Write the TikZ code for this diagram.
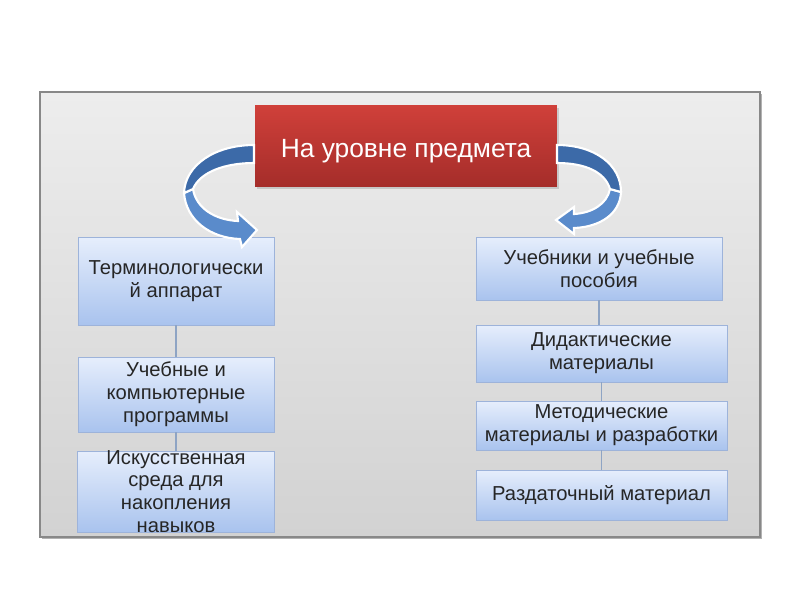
\documentclass[tikz,border=0pt]{standalone}
\usepackage{fontspec}
\setmainfont{Liberation Sans}
\usetikzlibrary{shadows}
\definecolor{bgtop}{HTML}{EDEDED}
\definecolor{bgbot}{HTML}{D2D2D2}
\definecolor{framegray}{HTML}{888888}
\definecolor{redtop}{HTML}{D0403A}
\definecolor{redbot}{HTML}{A52D2A}
\definecolor{boxtop}{HTML}{E6EEFC}
\definecolor{boxbot}{HTML}{A9C3EE}
\definecolor{boxline}{HTML}{9DB3DA}
\definecolor{linkblue}{HTML}{8EA4C4}
\definecolor{arrowdark}{HTML}{3C6AA8}
\definecolor{arrowlight}{HTML}{5A8BCB}
\begin{document}
\begin{tikzpicture}[x=0.02cm,y=-0.02cm,
  box/.style={draw=boxline,top color=boxtop,bottom color=boxbot,text=black!85,
    align=center,inner sep=2pt,font=\fontsize{11.5}{13}\selectfont},
  link/.style={draw=linkblue,line width=0.6pt},
  band/.style={draw=white,line width=1.2pt}]
\useasboundingbox (0,0) rectangle (800,600);

% frame
\fill[black!30] (42,94) rectangle (762,539);
\draw[framegray,line width=1.2pt,top color=bgtop,bottom color=bgbot] (40,92) rectangle (760,537);

% top
\node[top color=redtop,bottom color=redbot,text=white,minimum width=6.04cm,minimum height=1.62cm,
  text height=17pt,text depth=3pt,font=\fontsize{15}{18}\selectfont,
  drop shadow={opacity=0.3,shadow xshift=1pt,shadow yshift=-1.5pt}]
  (subj) at (406,145.5) {На уровне предмета};

% left column
\node[box,minimum width=3.92cm,minimum height=1.76cm] (term) at (176,281) {Терминологически\\й аппарат};
\node[box,minimum width=3.92cm,minimum height=1.5cm] (prog) at (176,394.5) {Учебные и\\компьютерные\\программы};
\node[box,minimum width=3.92cm,minimum height=1.62cm] (env) at (176,491.5)
  {\parbox[c][1.3cm][c]{3.8cm}{\centering Искусственная\\среда для\\накопления\\навыков}};
\draw[link] (term) -- (prog);
\draw[link] (prog) -- (env);

% right column
\node[box,minimum width=4.92cm,minimum height=1.26cm] (books) at (599,268.5) {Учебники и учебные\\пособия};
\node[box,minimum width=5.02cm,minimum height=1.14cm] (didact) at (601.5,353.5) {Дидактические\\материалы};
\node[box,minimum width=5.02cm,minimum height=0.98cm] (method) at (601.5,425.5) {Методические\\материалы и разработки};
\node[box,minimum width=5.02cm,minimum height=1.0cm] (hand) at (601.5,495) {Раздаточный материал};
\draw[link] (books.south) -- (books.south |- didact.north);
\draw[link] (didact) -- (method);
\draw[link] (method) -- (hand);

% curved arrows
\filldraw[band,fill=arrowlight] (184,193) .. controls (186,220) and (210,238) .. (240,239) -- (242,247)
  -- (257,230) -- (237,212) -- (238,221) .. controls (215,220) and (196,208) .. (193,189) -- cycle;
\filldraw[band,fill=arrowdark] (254,145) .. controls (215,145) and (185,165) .. (184,193)
  -- (193,189) .. controls (200,172) and (225,163) .. (254,163) -- cycle;
\filldraw[band,fill=arrowlight] (621,192) .. controls (620,214) and (600,227) .. (574,228) -- (574,234)
  -- (556,220) -- (574,207) -- (574,214) .. controls (592,213) and (607,204) .. (610,189) -- cycle;
\filldraw[band,fill=arrowdark] (557,145) .. controls (595,145) and (621,165) .. (621,192)
  -- (610,189) .. controls (605,172) and (585,163) .. (557,163) -- cycle;
\end{tikzpicture}
\end{document}
